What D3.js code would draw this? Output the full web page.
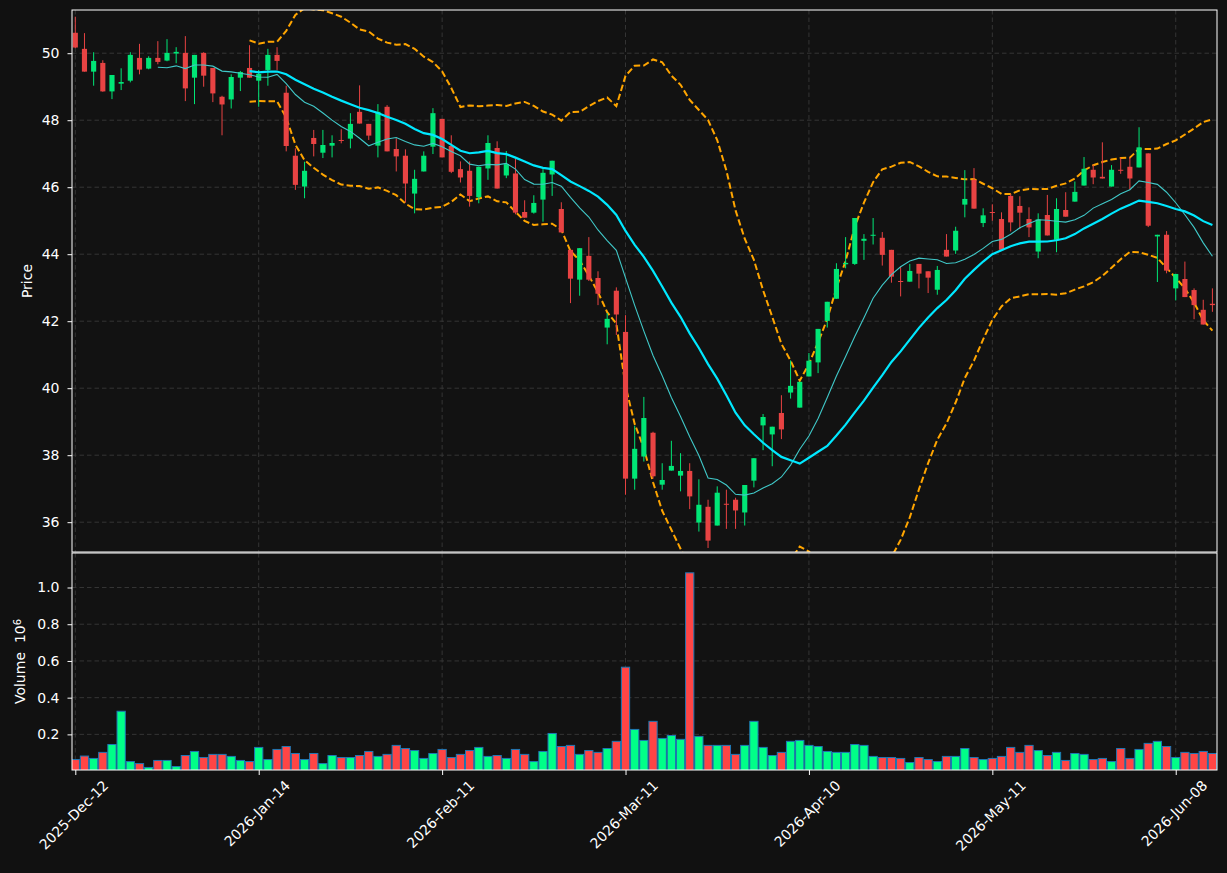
<!DOCTYPE html>
<html><head><meta charset="utf-8">
<script src="https://cdn.jsdelivr.net/npm/d3@7/dist/d3.min.js"></script>
<style>body{margin:0;background:#111111}svg{display:block}</style>
</head><body>
<svg id="c" width="1227" height="873"></svg>
<script>
const tickIndex = [0, 20, 40, 60, 80, 100, 120];
const tickLabels = ["2025-Dec-12", "2026-Jan-14", "2026-Feb-11", "2026-Mar-11", "2026-Apr-10", "2026-May-11", "2026-Jun-08"];
const priceTicks = [36, 38, 40, 42, 44, 46, 48, 50];
const volumeTicks = [0.2, 0.4, 0.6, 0.8, 1.0];

const opens = [50.61,50.13,49.45,49.71,48.86,49.09,49.18,49.86,49.54,49.86,49.78,49.99,50.01,49.27,50.01,49.56,48.70,48.62,49.27,49.56,
49.18,49.50,49.95,48.82,46.94,46.02,47.47,47.03,47.24,47.41,47.45,48.25,47.89,47.24,48.40,47.14,46.94,45.81,46.47,47.21,
48.04,47.23,46.54,46.49,45.70,46.56,47.17,46.35,46.41,45.26,45.24,45.63,46.38,45.35,44.13,43.24,43.95,43.29,41.81,42.91,
41.68,37.30,37.96,38.67,37.12,37.54,37.39,37.53,35.99,36.46,35.90,36.55,36.67,36.29,37.24,38.89,38.62,39.26,39.87,39.42,
40.35,40.77,42.01,42.67,43.70,43.71,44.40,44.56,44.49,44.13,43.20,43.18,43.71,43.49,42.94,44.13,44.11,45.48,46.22,44.93,
45.26,45.05,45.74,45.44,45.05,44.08,45.17,44.43,45.32,45.57,46.05,46.52,46.31,46.02,46.52,46.61,46.59,47.01,44.53,44.58,
42.98,43.26,42.93,42.34,42.52];
const highs = [51.09,50.60,50.03,49.79,49.35,49.55,50.03,50.28,49.91,50.36,50.42,50.18,50.51,49.95,50.03,49.56,48.73,49.37,49.47,50.24,
49.50,50.13,50.18,49.03,47.16,46.76,47.71,47.71,47.55,47.73,48.21,49.04,47.89,48.48,48.45,47.46,47.13,46.52,47.07,48.36,
48.04,47.55,46.77,46.77,46.61,47.55,47.37,47.08,46.85,45.61,45.76,46.54,46.79,45.55,44.13,44.18,44.51,43.49,42.24,43.01,
42.18,38.88,39.74,38.70,37.76,38.43,38.06,37.76,37.28,36.67,37.07,36.97,36.73,37.11,37.91,39.23,38.85,39.79,40.83,40.19,
41.05,41.77,42.58,43.73,44.51,45.08,44.60,45.08,44.66,44.13,43.63,43.71,43.71,43.49,43.65,44.60,44.82,46.51,46.57,45.37,
45.49,45.25,45.80,45.73,45.40,45.22,45.77,45.67,45.85,46.17,46.90,46.67,47.34,46.66,46.88,46.89,47.79,47.01,44.58,44.69,
43.41,43.78,42.98,42.64,42.98];
const lows = [50.15,49.45,49.03,48.85,48.63,48.90,49.13,49.37,49.52,49.67,49.76,49.70,48.57,48.48,49.00,48.54,47.55,48.35,48.87,49.27,
48.40,49.03,49.50,47.07,45.92,45.67,46.92,46.87,46.89,47.31,47.16,47.90,47.41,46.89,47.07,46.47,45.54,45.22,46.47,46.99,
46.89,46.42,46.14,45.42,45.52,46.22,45.96,46.27,45.19,45.09,45.21,44.97,45.74,44.65,42.54,42.76,43.20,42.48,41.31,41.59,
36.82,36.97,37.81,37.30,36.97,37.54,36.92,36.39,35.72,35.23,35.90,35.80,35.80,35.90,37.04,38.15,37.67,38.48,39.69,39.42,
40.35,40.45,41.81,42.67,43.58,43.68,43.83,44.29,43.66,43.15,42.74,43.18,42.98,42.84,42.79,43.93,44.01,45.10,45.36,44.81,
45.00,44.10,44.68,44.75,44.51,43.88,44.56,44.06,45.12,45.57,46.05,46.09,46.26,46.02,46.40,45.92,46.59,44.81,43.17,43.43,
42.62,42.72,42.06,41.90,42.28];
const closes = [50.17,49.45,49.77,48.86,49.35,49.14,49.95,49.51,49.86,49.74,50.01,50.04,48.95,49.95,49.33,48.80,48.47,49.29,49.44,49.27,
49.38,49.95,49.77,47.23,46.07,46.49,47.29,47.26,47.32,47.38,47.89,47.90,47.54,48.25,47.07,46.92,46.11,46.25,46.94,48.21,
46.89,46.46,46.29,45.74,46.61,47.32,45.96,46.69,45.24,45.09,45.53,46.43,46.79,44.65,43.27,44.18,43.24,42.82,42.07,42.20,
37.30,38.19,39.11,37.37,37.26,37.68,37.53,36.77,36.52,35.45,36.88,36.52,36.35,37.11,37.91,39.14,38.85,38.77,40.07,40.19,
40.82,41.77,42.58,43.56,43.74,45.08,44.46,44.58,43.98,43.33,43.18,43.50,43.42,43.30,43.53,43.93,44.70,45.65,45.36,45.16,
45.24,44.13,44.95,45.24,44.80,45.04,44.56,45.35,45.12,45.86,46.55,46.29,46.26,46.52,46.49,46.26,47.19,44.85,44.58,43.51,
43.41,42.72,42.48,41.90,42.48];
// volume in millions of shares
const volumes = [0.063,0.082,0.069,0.102,0.145,0.326,0.052,0.041,0.020,0.058,0.058,0.025,0.085,0.107,0.074,0.091,0.091,0.080,0.058,0.052,
0.129,0.063,0.118,0.134,0.096,0.063,0.096,0.041,0.085,0.074,0.074,0.085,0.107,0.080,0.091,0.140,0.123,0.112,0.069,0.096,
0.118,0.074,0.091,0.112,0.129,0.080,0.085,0.069,0.118,0.091,0.052,0.107,0.205,0.134,0.140,0.091,0.112,0.102,0.123,0.162,
0.566,0.227,0.167,0.271,0.178,0.194,0.173,1.080,0.189,0.140,0.140,0.140,0.091,0.140,0.271,0.129,0.085,0.102,0.162,0.167,
0.140,0.134,0.107,0.102,0.102,0.145,0.140,0.080,0.074,0.074,0.069,0.047,0.074,0.063,0.052,0.080,0.080,0.123,0.074,0.063,
0.069,0.080,0.129,0.102,0.140,0.112,0.085,0.102,0.058,0.096,0.091,0.063,0.069,0.052,0.123,0.069,0.118,0.151,0.162,0.134,
0.074,0.102,0.096,0.107,0.096];

const N = closes.length;
const idx = d3.range(N);
const L = 72, R = 1217, pTop = 10, pBot = 552, vTop = 553, vBot = 770;

const x = d3.scaleLinear().domain([-0.36, 124.5]).range([L, R]);
const yP = d3.scaleLinear().domain([35.11, 51.29]).range([pBot, pTop]);
const yV = d3.scaleLinear().domain([0.006, 1.188]).range([vBot, vTop]);
const pitch = x(1) - x(0);

const UP = "#00e676", DN = "#e84343", VUP = "#00ff88", VDN = "#ff4545";
const FONT = "DejaVu Sans, sans-serif";
const FS = 14;

const svg = d3.select("#c");
svg.append("rect").attr("width", 1227).attr("height", 873).attr("fill", "#111111");

const defs = svg.append("defs");
defs.append("clipPath").attr("id", "clipP").append("rect").attr("x", L).attr("y", pTop).attr("width", R - L).attr("height", pBot - pTop);
defs.append("clipPath").attr("id", "clipV").append("rect").attr("x", L).attr("y", vTop).attr("width", R - L).attr("height", vBot - vTop);

svg.append("rect").attr("x", L).attr("y", pTop).attr("width", R - L).attr("height", pBot - pTop).attr("fill", "#121212");
svg.append("rect").attr("x", L).attr("y", vTop).attr("width", R - L).attr("height", vBot - vTop).attr("fill", "#121212");

// grids
const grid = svg.append("g").attr("stroke", "#393939").attr("stroke-width", 0.9).attr("stroke-dasharray", "4.5,3");
grid.selectAll(".gyp").data(priceTicks).join("line")
  .attr("x1", L).attr("x2", R).attr("y1", d => yP(d)).attr("y2", d => yP(d));
grid.selectAll(".gyv").data(volumeTicks).join("line").attr("class", "gyv")
  .attr("x1", L).attr("x2", R).attr("y1", d => yV(d)).attr("y2", d => yV(d));
grid.selectAll(".gxp").data(tickIndex).join("line").attr("class", "gxp")
  .attr("x1", d => x(d)).attr("x2", d => x(d)).attr("y1", pTop).attr("y2", pBot);
grid.selectAll(".gxv").data(tickIndex).join("line").attr("class", "gxv")
  .attr("x1", d => x(d)).attr("x2", d => x(d)).attr("y1", vTop).attr("y2", vBot);

// moving averages & bollinger bands (derived from closes)
function sma(p) {
  return idx.map(i => i < p - 1 ? null : d3.mean(closes.slice(i - p + 1, i + 1)));
}
function sstd(p) {
  return idx.map(i => {
    if (i < p - 1) return null;
    const s = closes.slice(i - p + 1, i + 1), m = d3.mean(s);
    return Math.sqrt(d3.mean(s.map(v => (v - m) * (v - m))));
  });
}
const ma10 = sma(10), ma20 = sma(20), sd20 = sstd(20);
const bbUp = ma20.map((m, i) => m == null ? null : m + 2 * sd20[i]);
const bbLo = ma20.map((m, i) => m == null ? null : m - 2 * sd20[i]);

const pg = svg.append("g").attr("clip-path", "url(#clipP)");
const line = arr => d3.line().defined(i => arr[i] != null).x(i => x(i)).y(i => yP(arr[i]))(idx);

pg.append("path").attr("d", line(bbUp)).attr("fill", "none").attr("stroke", "#ffa500").attr("stroke-width", 2).attr("stroke-dasharray", "6.5,3");
pg.append("path").attr("d", line(bbLo)).attr("fill", "none").attr("stroke", "#ffa500").attr("stroke-width", 2).attr("stroke-dasharray", "6.5,3");

// candles
const cw = pitch * 0.56;
const cg = pg.append("g");
cg.selectAll(".wick").data(idx).join("line")
  .attr("x1", i => x(i)).attr("x2", i => x(i))
  .attr("y1", i => yP(highs[i])).attr("y2", i => yP(lows[i]))
  .attr("stroke", i => closes[i] >= opens[i] ? UP : DN).attr("stroke-width", 1);
cg.selectAll(".body").data(idx).join("rect")
  .attr("x", i => x(i) - cw / 2).attr("width", cw)
  .attr("y", i => yP(Math.max(opens[i], closes[i])))
  .attr("height", i => Math.max(1, Math.abs(yP(opens[i]) - yP(closes[i]))))
  .attr("fill", i => closes[i] >= opens[i] ? UP : DN);

pg.append("path").attr("d", line(ma10)).attr("fill", "none").attr("stroke", "#40c8c8").attr("stroke-width", 1.1);
pg.append("path").attr("d", line(ma20)).attr("fill", "none").attr("stroke", "#00e8ff").attr("stroke-width", 2.2);

// volume bars
const vg = svg.append("g").attr("clip-path", "url(#clipV)");
const vw = pitch * 0.9;
vg.selectAll("rect").data(idx).join("rect")
  .attr("x", i => x(i) - vw / 2).attr("width", vw)
  .attr("y", i => yV(volumes[i])).attr("height", i => vBot + 2 - yV(volumes[i]))
  .attr("fill", i => closes[i] >= opens[i] ? VUP : VDN)
  .attr("stroke", "#1f77b4").attr("stroke-width", 1);

// axes
function styleAxis(g) {
  g.select(".domain").remove();
  g.selectAll("line").attr("stroke", "#ffffff");
  g.selectAll("text").attr("fill", "#ffffff").attr("font-family", FONT).attr("font-size", FS);
}
svg.append("g").attr("transform", `translate(${L},0)`)
  .call(d3.axisLeft(yP).tickValues(priceTicks).tickFormat(d3.format("d")).tickSize(4.5).tickPadding(8))
  .call(styleAxis);
svg.append("g").attr("transform", `translate(${L},0)`)
  .call(d3.axisLeft(yV).tickValues(volumeTicks).tickFormat(d3.format(".1f")).tickSize(4.5).tickPadding(8))
  .call(styleAxis);
const xa = svg.append("g").attr("transform", `translate(0,${vBot})`)
  .call(d3.axisBottom(x).tickValues(tickIndex).tickFormat((d, k) => tickLabels[k]).tickSize(5).tickPadding(0))
  .call(styleAxis);
xa.selectAll("text").each(function () {
  const t = d3.select(this);
  const w = this.getComputedTextLength();
  const off = (w + FS) * 0.3536 + 8;
  t.attr("y", null).attr("dy", "0.35em").attr("text-anchor", "middle")
   .attr("transform", `translate(-2,${off}) rotate(-45)`);
});

// borders
const bd = svg.append("g").attr("fill", "none").attr("stroke", "#ffffff").attr("stroke-width", 1);
bd.append("rect").attr("x", L).attr("y", pTop).attr("width", R - L).attr("height", pBot - pTop);
bd.append("rect").attr("x", L).attr("y", vTop).attr("width", R - L).attr("height", vBot - vTop);

// axis labels
svg.append("text").attr("transform", `translate(32,${(pTop + pBot) / 2}) rotate(-90)`)
  .attr("text-anchor", "middle").attr("fill", "#ffffff").attr("font-family", FONT).attr("font-size", FS)
  .text("Price");
const vl = svg.append("text").attr("transform", `translate(25,${(vTop + vBot) / 2}) rotate(-90)`)
  .attr("text-anchor", "middle").attr("fill", "#ffffff").attr("font-family", FONT).attr("font-size", FS)
  .attr("xml:space", "preserve");
vl.append("tspan").text("Volume\u00a0\u00a010");
vl.append("tspan").attr("dy", "-0.45em").attr("font-size", 10).text("6");
</script>
</body></html>
